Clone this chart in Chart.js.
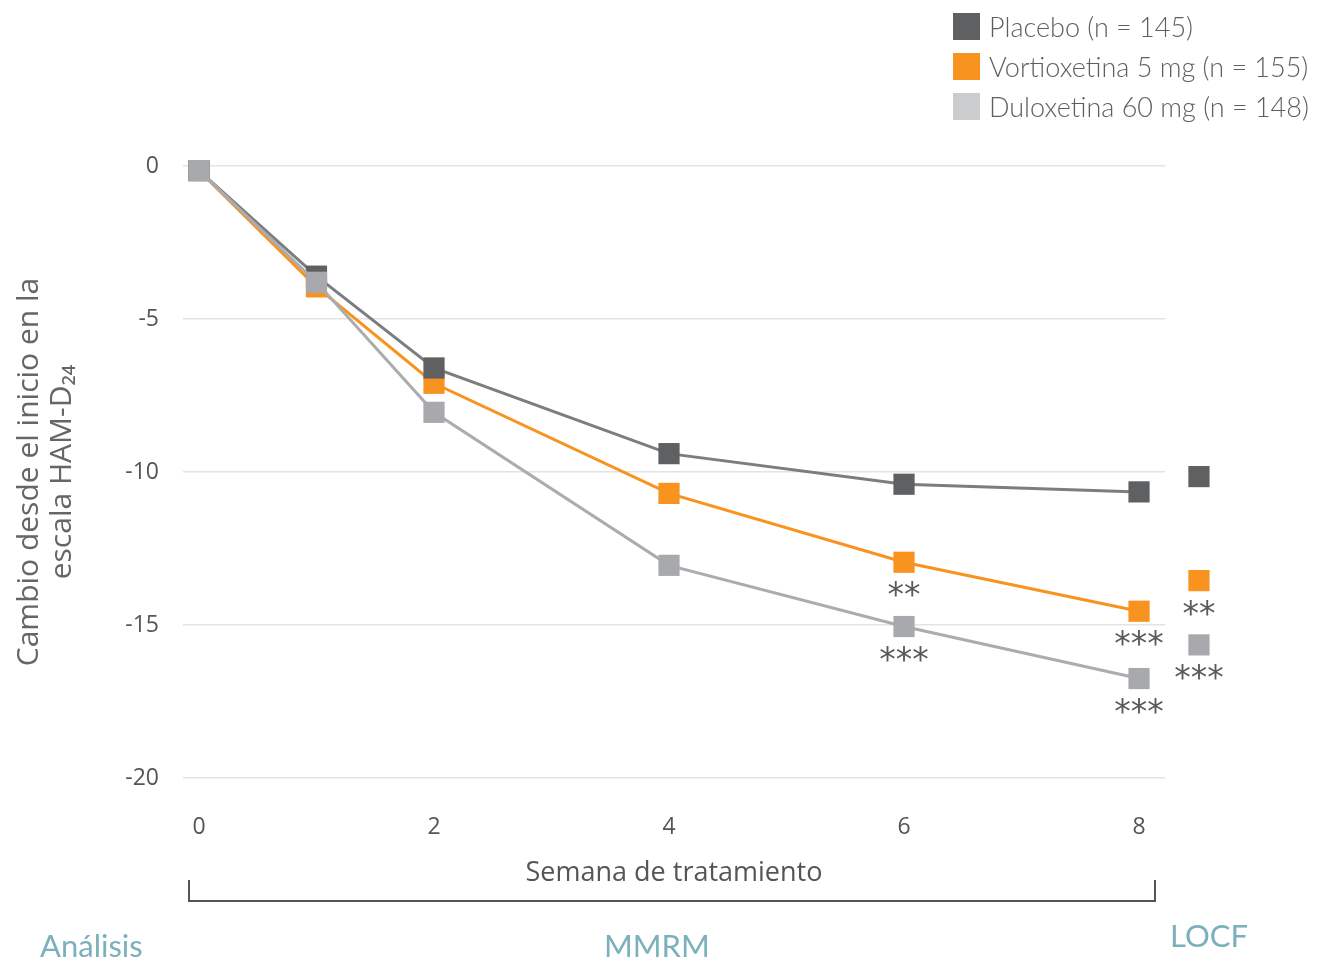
<!DOCTYPE html>
<html>
<head>
<meta charset="utf-8">
<title>Cambio desde el inicio HAM-D24</title>
<script src="https://cdn.jsdelivr.net/npm/chart.js"></script>
<style>
    body { margin: 0; background: #fff; }
    #wrap { position: relative; width: 1324px; height: 962px; }
    #legend { position: absolute; left: 953px; top: 6px; font-family: Lato, "Open Sans", sans-serif; font-weight: 300; font-size: 27px; color: #5f5f5f; }
    #legend .row { height: 40px; display: flex; align-items: center; white-space: nowrap; }
    #legend .box { width: 27px; height: 27px; margin-right: 9px; display: inline-block; }
    .note { position: absolute; color: #7bb0bc; font-family: Lato, sans-serif; font-size: 31px; white-space: nowrap; }
</style>
</head>
<body>
<div id="wrap">
    <canvas id="hamChart" width="1324" height="962"></canvas>
    <div id="legend"></div>
    <div class="note" style="left:40px; top:926px;">Análisis</div>
    <div class="note" style="left:604px; top:926px;">MMRM</div>
    <div class="note" style="left:1170px; top:916px;">LOCF</div>
</div>

<script>
    // semanas de tratamiento
    const weeks = [0, 1, 2, 4, 6, 8];
    const locfWeek = 8.51;

    const seriesNames = ['Placebo (n = 145)', 'Vortioxetina 5 mg (n = 155)', 'Duloxetina 60 mg (n = 148)'];
    const seriesColors = ['#5f6062', '#f7931e', '#a8a9ac'];
    const lineColors = ['#7c7d80', '#f7931e', '#abacaf'];

    // MMRM
    const placebo = [-0.15, -3.6, -6.6, -9.4, -10.4, -10.65];
    const vortioxetina = [-0.15, -3.95, -7.1, -10.7, -12.95, -14.55];
    const duloxetina = [-0.15, -3.8, -8.05, -13.05, -15.05, -16.75];

    // LOCF
    const locfValues = [-10.15, -13.55, -15.65];

    // significancia
    const placeboStars = ['', '', '', '', '', ''];
    const vortStars = ['', '', '', '', '**', '***'];
    const duloxStars = ['', '', '', '', '***', '***'];
    const locfStars = ['', '**', '***'];

    const allSeries = [placebo, vortioxetina, duloxetina];
    const allStars = [placeboStars, vortStars, duloxStars];
    const drawOrder = [1, 2, 0];  // duloxetina on top, then placebo, then vortioxetina
    const markRadius = 15;

    const datasets = [];
    allSeries.forEach((vals, i) => {
        datasets.push({
            label: seriesNames[i],
            data: weeks.map((w, j) => ({ x: w, y: vals[j] })),
            borderColor: lineColors[i],
            backgroundColor: seriesColors[i],
            pointBackgroundColor: seriesColors[i],
            pointBorderWidth: 0,
            pointStyle: 'rect',
            pointRadius: markRadius,
            borderWidth: 3,
            tension: 0,
            clip: false,
            order: drawOrder[i],
            stars: allStars[i]
        });
    });
    // LOCF points sit right of the plot area (bubble type so they are not culled)
    allSeries.forEach((vals, i) => {
        datasets.push({
            type: 'bubble',
            label: seriesNames[i] + ' LOCF',
            data: [{ x: locfWeek, y: locfValues[i], r: 0 }],
            backgroundColor: seriesColors[i],
            borderWidth: 0,
            pointStyle: 'rect',
            radius: markRadius,
            clip: false,
            order: drawOrder[i],
            stars: [locfStars[i]],
            outside: true
        });
    });

    // legend as html
    const legendEl = document.getElementById('legend');
    seriesNames.forEach((name, i) => {
        const row = document.createElement('div');
        row.className = 'row';
        const box = document.createElement('span');
        box.className = 'box';
        box.style.background = i === 2 ? '#cbcccd' : seriesColors[i];
        row.appendChild(box);
        row.appendChild(document.createTextNode(name));
        legendEl.appendChild(row);
    });

    const extras = {
        id: 'extras',
        afterDatasetsDraw(chart) {
            const ctx = chart.ctx;
            ctx.save();
            // chart.js skips points outside the chart area, so fill them at the element positions
            const half = markRadius * Math.SQRT1_2;
            chart.data.datasets.forEach((ds, di) => {
                if (!ds.outside) return;
                ctx.fillStyle = ds.backgroundColor;
                chart.getDatasetMeta(di).data.forEach(el => {
                    ctx.fillRect(el.x - half, el.y - half, half * 2, half * 2);
                });
            });
            ctx.fillStyle = '#5a5a5a';
            ctx.font = '33px "DejaVu Sans"';
            ctx.textAlign = 'center';
            ctx.textBaseline = 'top';
            chart.data.datasets.forEach((ds, di) => {
                const meta = chart.getDatasetMeta(di);
                ds.stars.forEach((s, k) => {
                    if (!s) return;
                    const p = meta.data[k];
                    ctx.fillText(s, p.x, p.y + 19);
                });
            });
            // bracket under the x axis
            const a = chart.chartArea;
            const yb = a.bottom + 123;
            ctx.strokeStyle = '#555';
            ctx.lineWidth = 2;
            ctx.beginPath();
            ctx.moveTo(a.left + 6, yb - 21);
            ctx.lineTo(a.left + 6, yb);
            ctx.lineTo(a.right - 10, yb);
            ctx.lineTo(a.right - 10, yb - 21);
            ctx.stroke();
            ctx.restore();
        }
    };

    const tickFont = { family: '"Open Sans", sans-serif', size: 23 };

    const ctx = document.getElementById('hamChart').getContext('2d');
    const chart = new Chart(ctx, {
        type: 'line',
        data: { datasets: datasets },
        plugins: [extras],
        options: {
            responsive: false,
            animation: false,
            layout: { padding: { top: 166, right: 159, bottom: 0, left: 0 } },
            plugins: {
                legend: { display: false },
                tooltip: { enabled: false }
            },
            scales: {
                x: {
                    type: 'linear',
                    min: -0.136,
                    max: 8.221,
                    grid: { display: false, drawTicks: false },
                    border: { display: false },
                    ticks: { stepSize: 2, includeBounds: false, padding: 36, color: '#555', font: tickFont },
                    title: {
                        display: true,
                        text: 'Semana de tratamiento',
                        color: '#555',
                        font: { family: '"Open Sans", sans-serif', size: 27 },
                        padding: { top: 0, bottom: 72 }
                    },
                    afterFit: s => { s.height = 184; }
                },
                y: {
                    min: -20,
                    max: 0,
                    grid: { color: '#e3e3e3', lineWidth: 1.5, drawTicks: false },
                    border: { display: false },
                    ticks: { stepSize: 5, padding: 24, color: '#555', font: tickFont },
                    title: {
                        display: true,
                        text: ['Cambio desde el inicio en la', 'escala HAM-D₂₄'],
                        color: '#666',
                        font: { family: '"Open Sans", sans-serif', size: 30, lineHeight: 1.1 },
                        padding: { top: 13, bottom: 0 }
                    },
                    afterFit: s => { s.width = 183; }
                }
            }
        }
    });
</script>
</body>
</html>
